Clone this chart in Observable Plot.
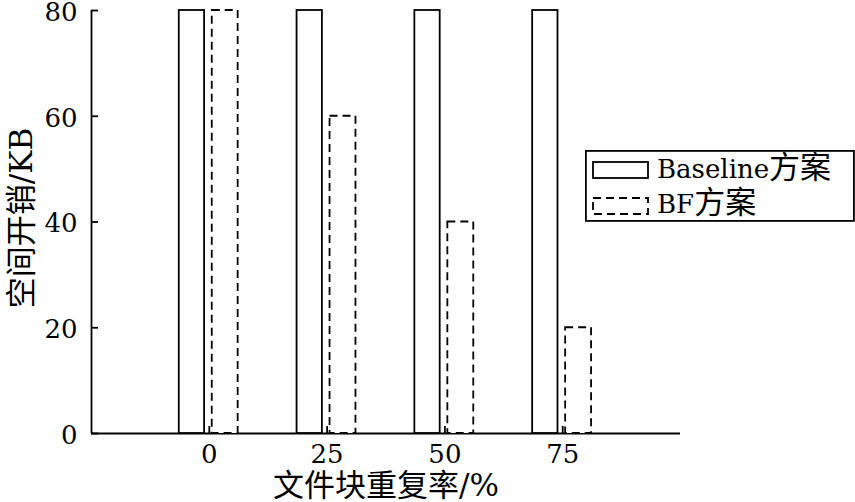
<!DOCTYPE html>
<html>
<head>
<meta charset="utf-8">
<script src="https://cdn.jsdelivr.net/npm/d3@7"></script>
<script src="https://cdn.jsdelivr.net/npm/@observablehq/plot@0.6"></script>
<style>
  body { margin: 0; background: #fff; }
  #wrap { position: relative; width: 855px; height: 502px; overflow: hidden; }
  #legend { position: absolute; left: 585px; top: 150px; overflow: visible; }
</style>
</head>
<body>
<div id="wrap"></div>
<script>
// ---- data ----
const categories = ["0", "25", "50", "75"];
const baselineValues = [80, 80, 80, 80];
const bfValues = [80, 60, 40, 20];
const yTicks = [0, 20, 40, 60, 80];
const seriesNames = ["Baseline方案", "BF方案"];
const xLabel = "文件块重复率/%";
const yLabel = "空间开销/KB";

// ---- build table ----
const rows = [];
categories.forEach((c, i) => {
  rows.push({ i, c, s: 0, v: baselineValues[i] });
  rows.push({ i, c, s: 1, v: bfValues[i] });
});
const barOffsets = [[-0.255, -0.04], [0.025, 0.245]];
const idx = categories.map((_, i) => i);

const serif = "'DejaVu Serif', 'Noto Sans CJK SC', serif";
const sw = 1.8;

const chart = Plot.plot({
  width: 855,
  height: 502,
  marginLeft: 91,
  marginRight: 175,
  marginTop: 10,
  marginBottom: 69,
  x: { domain: [-1, 4], axis: null },
  y: { domain: [0, 80], axis: null },
  style: { fontFamily: serif, fontSize: "26px", color: "#000", background: "#fff", overflow: "visible" },
  marks: [
    Plot.ruleY([0], { stroke: "#000", strokeWidth: sw }),
    Plot.ruleX([-1], { stroke: "#000", strokeWidth: sw }),
    Plot.rect(rows.filter(d => d.s === 0), {
      x1: d => d.i + barOffsets[0][0], x2: d => d.i + barOffsets[0][1],
      y1: 0, y2: "v", fill: "#fff", stroke: "#000", strokeWidth: sw
    }),
    Plot.rect(rows.filter(d => d.s === 1), {
      x1: d => d.i + barOffsets[1][0], x2: d => d.i + barOffsets[1][1],
      y1: 0, y2: "v", fill: "#fff", stroke: "#000", strokeWidth: sw,
      strokeDasharray: "8,5"
    }),
    Plot.axisY(yTicks, { tickSize: 0, tickPadding: 14, label: null, fontSize: 26, dy: 2 }),
    Plot.axisY(yTicks, { tickSize: -7, tickFormat: () => "", label: null, strokeWidth: sw }),
    Plot.axisX(idx, { tickSize: 0, tickPadding: 11, tickFormat: i => categories[i], label: null, fontSize: 26 }),
    Plot.axisX(idx, { tickSize: -7, tickFormat: () => "", label: null, strokeWidth: sw }),
    Plot.text([yLabel], { text: d => d, frameAnchor: "left", textAnchor: "middle", rotate: -90, dx: -69, dy: -4, fontSize: 31, lineAnchor: "middle" }),
    Plot.text([xLabel], { text: d => d, frameAnchor: "bottom", textAnchor: "middle", dy: 53, fontSize: 31, lineAnchor: "middle" })
  ]
});
document.getElementById("wrap").appendChild(chart);

// ---- legend ----
const leg = d3.select("#wrap").append("svg")
  .attr("id", "legend").attr("width", 270).attr("height", 73);
leg.append("rect").attr("x", 0.9).attr("y", 0.9).attr("width", 268).attr("height", 70)
  .attr("fill", "#fff").attr("stroke", "#000").attr("stroke-width", sw);
const legRows = [
  { name: seriesNames[0], dash: null, sy: 12, ty: 28 },
  { name: seriesNames[1], dash: "8,5", sy: 48, ty: 63 }
];
legRows.forEach(r => {
  leg.append("rect").attr("x", 8).attr("y", r.sy).attr("width", 55).attr("height", 16)
    .attr("fill", "#fff").attr("stroke", "#000").attr("stroke-width", sw)
    .attr("stroke-dasharray", r.dash);
  const m = r.name.match(/^([A-Za-z]+)(.*)$/);
  const t = leg.append("text").attr("x", 72).attr("y", r.ty).attr("fill", "#000");
  t.append("tspan").attr("font-family", "'DejaVu Serif', serif").attr("font-size", 26).text(m[1]);
  t.append("tspan").attr("font-family", "'Noto Sans CJK SC', sans-serif").attr("font-size", 31).text(m[2]);
});
</script>
</body>
</html>
